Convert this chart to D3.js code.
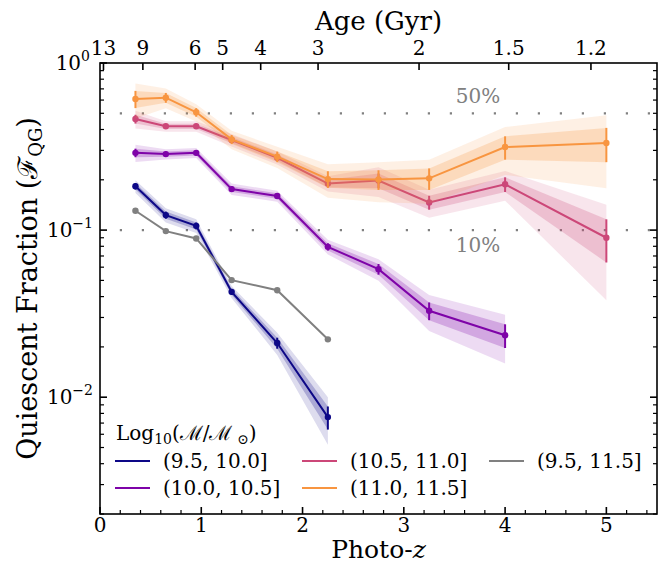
<!DOCTYPE html>
<html><head><meta charset="utf-8">
<script src="https://cdn.jsdelivr.net/npm/d3@7"></script>
<style>
body{margin:0;background:#fff}
svg{display:block}
text{font-family:"DejaVu Serif",serif;fill:#000}
</style>
</head><body><svg id="c" width="659" height="564"></svg>
<script>
// ---------------- data ----------------
const redshift = [0.35, 0.65, 0.95, 1.3, 1.75, 2.25, 2.75, 3.25, 4.0, 5.0];
const binLabels = ["(9.5, 10.0]", "(10.0, 10.5]", "(10.5, 11.0]", "(11.0, 11.5]", "(9.5, 11.5]"];
const frac_95_100 = [0.183, 0.123, 0.106, 0.0427, 0.0211, 0.0076];
const err_95_100 = [0.008, 0.006, 0.005, 0.0018, 0.0016, 0.0012];
const frac_100_105 = [0.290, 0.285, 0.290, 0.176, 0.160, 0.0794, 0.0584, 0.0329, 0.0235];
const err_100_105 = [0.017, 0.010, 0.010, 0.007, 0.006, 0.004, 0.0043, 0.004, 0.0038];
const frac_105_110 = [0.462, 0.418, 0.418, 0.346, 0.271, 0.190, 0.198, 0.1465, 0.188, 0.090];
const err_105_110 = [0.028, 0.015, 0.015, 0.015, 0.012, 0.010, 0.020, 0.014, 0.019, 0.026];
const frac_110_115 = [0.609, 0.620, 0.507, 0.349, 0.275, 0.202, 0.201, 0.204, 0.314, 0.332];
const err_110_115 = [0.072, 0.042, 0.030, 0.022, 0.020, 0.023, 0.027, 0.030, 0.050, 0.077];
const frac_all = [0.1305, 0.0986, 0.0891, 0.0502, 0.0437, 0.0222];
const colors = ["#0d0887", "#7e03a8", "#cc4778", "#f89540", "#808080"];
const ageTicks = [13, 9, 6, 5, 4, 3, 2, 1.5, 1.2];
const ageTickLabels = ["13", "9", "6", "5", "4", "3", "2", "1.5", "1.2"];
const xTicks = [0, 1, 2, 3, 4, 5];
const yTicks = [1, 0.1, 0.01];
const yTickExp = ["0", "\u22121", "\u22122"];
const refLevels = [0.5, 0.1];
const refLabels = ["50%", "10%"];

// ---------------- layout ----------------
const L = 100, R = 657, T = 63, B = 514;
const svg = d3.select("#c");
const x = d3.scaleLinear().domain([0, 5.5]).range([L, R]);
const y = d3.scaleLog().domain([0.002, 1]).range([B, T]);

// flat LCDM (H0=70, Om=0.3): redshift at given age (Gyr)
function zAtAge(t) {
  const Om = 0.3, OL = 0.7, tH = 977.8 / 70;
  const A = 2 / (3 * Math.sqrt(OL)) * tH;
  const s = Math.sinh(t / A) / Math.sqrt(OL / Om);
  return Math.pow(s, -2 / 3) - 1;
}

const series = [
  {v: frac_95_100, e: err_95_100, c: colors[0], label: binLabels[0]},
  {v: frac_100_105, e: err_100_105, c: colors[1], label: binLabels[1]},
  {v: frac_105_110, e: err_105_110, c: colors[2], label: binLabels[2]},
  {v: frac_110_115, e: err_110_115, c: colors[3], label: binLabels[3]},
  {v: frac_all, e: null, c: colors[4], label: binLabels[4]}
];

svg.append("clipPath").attr("id", "pc").append("rect")
  .attr("x", L).attr("y", T).attr("width", R - L).attr("height", B - T);
const plot = svg.append("g").attr("clip-path", "url(#pc)");

// reference dotted lines
refLevels.forEach((lv) => {
  plot.append("line").attr("x1", L).attr("x2", R).attr("y1", y(lv)).attr("y2", y(lv))
    .attr("stroke", "#808080").attr("stroke-width", 2.2).attr("stroke-dasharray", "2.2 19.8")
    .attr("stroke-dashoffset", -19.8);
});
svg.append("text").attr("x", 478).attr("y", y(refLevels[0]) - 10).attr("text-anchor", "middle")
  .attr("font-size", 20).style("fill", "#808080").text(refLabels[0]);
svg.append("text").attr("x", 478).attr("y", y(refLevels[1]) + 22).attr("text-anchor", "middle")
  .attr("font-size", 20).style("fill", "#808080").text(refLabels[1]);

// series
series.forEach(s => {
  const pts = s.v.map((v, i) => ({z: redshift[i], v: v, e: s.e ? s.e[i] : 0}));
  if (s.e) {
    const outer = d3.area().x(d => x(d.z)).y0(d => y(Math.max(d.v - 2 * d.e, 1e-4))).y1(d => y(d.v + 2 * d.e));
    const inner = d3.area().x(d => x(d.z)).y0(d => y(Math.max(d.v - d.e, 1e-4))).y1(d => y(d.v + d.e));
    plot.append("path").attr("d", outer(pts)).attr("fill", s.c).attr("fill-opacity", 0.14);
    plot.append("path").attr("d", inner(pts)).attr("fill", s.c).attr("fill-opacity", 0.24);
  }
  plot.append("path").attr("d", d3.line().x(d => x(d.z)).y(d => y(d.v))(pts))
    .attr("fill", "none").attr("stroke", s.c).attr("stroke-width", 2);
  if (s.e) {
    plot.selectAll(null).data(pts).enter().append("line")
      .attr("x1", d => x(d.z)).attr("x2", d => x(d.z))
      .attr("y1", d => y(d.v - d.e)).attr("y2", d => y(d.v + d.e))
      .attr("stroke", s.c).attr("stroke-width", 2);
  }
  plot.selectAll(null).data(pts).enter().append("circle")
    .attr("cx", d => x(d.z)).attr("cy", d => y(d.v)).attr("r", 3.2).attr("fill", s.c);
});

// frame
svg.append("rect").attr("x", L).attr("y", T).attr("width", R - L).attr("height", B - T)
  .attr("fill", "none").attr("stroke", "#000").attr("stroke-width", 1.6);

const tk = svg.append("g").attr("stroke", "#000");
// bottom ticks
d3.range(0, 5.5001, 0.2).forEach(v => {
  const major = Math.abs(v - Math.round(v)) < 1e-6;
  const len = major ? 7 : 4;
  tk.append("line").attr("x1", x(v)).attr("x2", x(v)).attr("y1", B).attr("y2", B - len)
    .attr("stroke-width", major ? 1.6 : 1.2);
});
xTicks.forEach(v => {
  svg.append("text").attr("x", x(v)).attr("y", B + 18).attr("text-anchor", "middle")
    .attr("font-size", 20).text(String(v));
});
// top (age) ticks
ageTicks.forEach((a, i) => {
  const xx = x(zAtAge(a));
  tk.append("line").attr("x1", xx).attr("x2", xx).attr("y1", T).attr("y2", T + 7).attr("stroke-width", 1.6);
  svg.append("text").attr("x", xx).attr("y", T - 8).attr("text-anchor", "middle")
    .attr("font-size", 20).text(ageTickLabels[i]);
});
// left/right log ticks
[0.001, 0.01, 0.1].forEach(dec => {
  for (let m = 1; m <= 9; m++) {
    const v = dec * m;
    if (v < 0.002 - 1e-9 || v > 1 + 1e-9) continue;
    const major = m === 1;
    const len = major ? 7 : 4;
    tk.append("line").attr("x1", L).attr("x2", L + len).attr("y1", y(v)).attr("y2", y(v)).attr("stroke-width", major ? 1.6 : 1.2);
    tk.append("line").attr("x1", R).attr("x2", R - len).attr("y1", y(v)).attr("y2", y(v)).attr("stroke-width", major ? 1.6 : 1.2);
  }
});
tk.append("line").attr("x1", L).attr("x2", L + 7).attr("y1", y(1)).attr("y2", y(1)).attr("stroke-width", 1.6);
yTicks.forEach((v, i) => {
  const t = svg.append("text").attr("x", i === 0 ? 90 : 93).attr("y", y(v) + 7).attr("text-anchor", "end").attr("font-size", 20);
  t.append("tspan").text("10");
  t.append("tspan").attr("dy", -9).attr("font-size", 14).text(yTickExp[i]);
});

// axis labels
svg.append("text").attr("x", (L + R) / 2).attr("y", 30).attr("text-anchor", "middle")
  .attr("font-size", 26).text("Age (Gyr)");
const xl = svg.append("text").attr("x", (L + R) / 2).attr("y", 558).attr("text-anchor", "middle").attr("font-size", 25);
xl.append("tspan").text("Photo-");
xl.append("tspan").attr("font-style", "italic").text("z");
const yl = svg.append("text").attr("transform", `translate(37,${(T + B) / 2}) rotate(-90)`)
  .attr("text-anchor", "middle").attr("font-size", 27);
yl.append("tspan").text("Quiescent Fraction (");
yl.append("tspan").text("\u2131");
yl.append("tspan").attr("dy", 5).attr("font-size", 18).text("QG");
yl.append("tspan").attr("dy", -5).text(")");

// legend
const lg = svg.append("g");
const tt = lg.append("text").attr("x", 116).attr("y", 440).attr("font-size", 20);
tt.append("tspan").text("Log");
tt.append("tspan").attr("dy", 4).attr("font-size", 14).text("10");
tt.append("tspan").attr("dy", -4).text("(\u2133/\u2133");
tt.append("tspan").attr("dy", 4).attr("font-size", 14).text(" \u2299");
tt.append("tspan").attr("dy", -4).text(")");
const order = [0, 1, 2, 3, 4];
order.forEach((si, k) => {
  const col = Math.floor(k / 2), row = k % 2;
  const x0 = 115 + col * 187, yy = 461 + row * 27;
  lg.append("line").attr("x1", x0).attr("x2", x0 + 35).attr("y1", yy).attr("y2", yy)
    .attr("stroke", series[si].c).attr("stroke-width", 2);
  lg.append("text").attr("x", x0 + 48).attr("y", yy + 7).attr("font-size", 20).text(series[si].label);
});
</script>
</body></html>
